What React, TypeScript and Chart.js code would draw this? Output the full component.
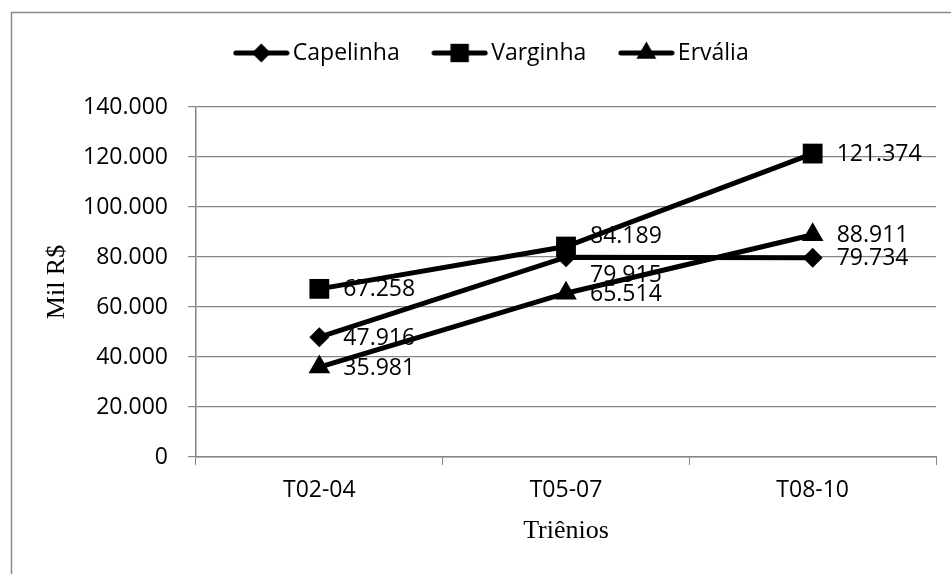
import React, { useEffect, useRef } from "react";
import { Chart, registerables } from "chart.js";

Chart.register(...registerables);

// ---- data ----
const categories = ["T02-04", "T05-07", "T08-10"];
const seriesNames = ["Capelinha", "Varginha", "Ervália"];
const capelinha = [47916, 79915, 79734];
const varginha = [67258, 84189, 121374];
const ervalia = [35981, 65514, 88911];
const yTicks = [0, 20000, 40000, 60000, 80000, 100000, 120000, 140000];

const SANS = "'Open Sans', 'Noto Sans', sans-serif";
const SERIF = "'Liberation Serif', 'DejaVu Serif', serif";
const GRID = "#868686";

const fmt = (n: number) => String(Math.round(n)).replace(/\B(?=(\d{3})+(?!\d))/g, ".");

// marker styles per series (style only)
const markers = [
  { style: "rectRot", radius: 10 },
  { style: "rect", radius: 14 },
  { style: "triangle", radius: 12.5 },
];

// small vertical nudges for overlapping data labels (dataset index -> point index -> px)
const labelNudge: Record<string, number> = { "1-1": -10, "0-1": 18 };

function drawMarker(ctx: CanvasRenderingContext2D, style: string, x: number, y: number, r: number) {
  ctx.beginPath();
  if (style === "rect") {
    const s = Math.SQRT1_2 * r;
    ctx.rect(x - s, y - s, 2 * s, 2 * s);
  } else if (style === "rectRot") {
    ctx.moveTo(x - r, y);
    ctx.lineTo(x, y - r);
    ctx.lineTo(x + r, y);
    ctx.lineTo(x, y + r);
    ctx.closePath();
  } else {
    ctx.moveTo(x, y - r);
    ctx.lineTo(x + r * Math.cos(Math.PI / 6), y + r / 2);
    ctx.lineTo(x - r * Math.cos(Math.PI / 6), y + r / 2);
    ctx.closePath();
  }
  ctx.fill();
}

function legendImage(i: number): HTMLCanvasElement {
  const c = document.createElement("canvas");
  c.width = 57;
  c.height = 30;
  const ctx = c.getContext("2d")!;
  ctx.strokeStyle = "#000";
  ctx.fillStyle = "#000";
  ctx.lineWidth = 5;
  ctx.lineCap = "round";
  ctx.beginPath();
  ctx.moveTo(3, 15);
  ctx.lineTo(54, 15);
  ctx.stroke();
  const m = markers[i];
  drawMarker(ctx, m.style, 28.5, 15, m.style === "rect" ? 13 : m.style === "triangle" ? 11.5 : 9.5);
  return c;
}

const borderPlugin = {
  id: "outerBorder",
  beforeDraw(chart: any) {
    const ctx = chart.ctx;
    ctx.save();
    ctx.fillStyle = "#fff";
    ctx.fillRect(0, 0, chart.width, chart.height);
    ctx.strokeStyle = "#898989";
    ctx.lineWidth = 1.5;
    ctx.strokeRect(11.5, 12.5, chart.width + 50, chart.height + 50);
    ctx.restore();
  },
};

const dataLabelPlugin = {
  id: "dataLabels",
  afterDatasetsDraw(chart: any) {
    const ctx = chart.ctx;
    ctx.save();
    ctx.font = `23px ${SANS}`;
    ctx.fillStyle = "#000";
    ctx.textAlign = "left";
    ctx.textBaseline = "middle";
    chart.data.datasets.forEach((ds: any, di: number) => {
      const meta = chart.getDatasetMeta(di);
      meta.data.forEach((pt: any, pi: number) => {
        const nudge = labelNudge[`${di}-${pi}`] || 1;
        ctx.fillText(fmt(ds.data[pi]), pt.x + 24, pt.y + nudge);
      });
    });
    ctx.restore();
  },
};

export default function App() {
  const ref = useRef<HTMLCanvasElement | null>(null);

  useEffect(() => {
    document.body.style.margin = "0";
    const canvas = ref.current!;
    const seriesData = [capelinha, varginha, ervalia];
    const images = seriesNames.map((_, i) => legendImage(i));

    const chart = new Chart(canvas, {
      type: "line",
      data: {
        labels: categories,
        datasets: seriesNames.map((name, i) => ({
          label: name,
          data: seriesData[i],
          borderColor: "#000",
          backgroundColor: "#000",
          borderWidth: 5,
          tension: 0,
          pointStyle: markers[i].style as any,
          pointRadius: markers[i].radius,
          pointBackgroundColor: "#000",
          pointBorderColor: "#000",
          pointBorderWidth: 0,
          fill: false,
        })),
      },
      options: {
        responsive: false,
        animation: false,
        devicePixelRatio: 1,
        layout: { padding: { left: 54, right: 15, top: 1.5, bottom: 0 } },
        plugins: {
          tooltip: { enabled: false },
          title: {
            display: true,
            text: "",
            weight: 100,
            font: { size: 10, lineHeight: 1 },
            padding: { top: 22.5, bottom: 0 },
          } as any,
          legend: {
            position: "top",
            labels: {
              usePointStyle: true,
              pointStyleWidth: 40,
              padding: 40,
              color: "#000",
              font: { family: SANS, size: 23 },
              generateLabels: (ch: any) => {
                const base = (Chart.defaults.plugins.legend.labels as any).generateLabels(ch);
                return base.map((it: any, i: number) => ({ ...it, pointStyle: images[i] }));
              },
            },
          },
        },
        scales: {
          x: {
            offset: true,
            grid: {
              display: true,
              drawOnChartArea: false,
              drawTicks: true,
              tickLength: 8,
              color: GRID,
              offset: true,
            },
            border: { display: true, color: GRID, width: 1.5 },
            ticks: { color: "#000", font: { family: SANS, size: 23 }, padding: 12 },
            title: {
              display: true,
              text: "Triênios",
              color: "#000",
              font: { family: SERIF, size: 26 },
              padding: { top: 0, bottom: 27 },
            },
            afterFit: (s: any) => {
              s.height = 117;
            },
          },
          y: {
            min: 0,
            max: 140000,
            afterBuildTicks: (s: any) => {
              s.ticks = yTicks.map((v) => ({ value: v }));
            },
            grid: { color: GRID, lineWidth: 1.2, tickLength: 8, drawTicks: true },
            border: { display: true, color: GRID, width: 1.5 },
            ticks: {
              color: "#000",
              font: { family: SANS, size: 23 },
              padding: 20,
              callback: (v: any) => fmt(Number(v)),
            },
            title: {
              display: true,
              text: "Mil R$",
              color: "#000",
              font: { family: SERIF, size: 26 },
              padding: { top: -12.6, bottom: 0 },
            },
            afterFit: (s: any) => {
              s.width = 142;
            },
          },
        },
      },
      plugins: [borderPlugin, dataLabelPlugin],
    });
    return () => chart.destroy();
  }, []);

  return (
    <div style={{ width: 951, height: 574 }}>
      <canvas ref={ref} width={951} height={574} style={{ display: "block" }} />
    </div>
  );
}
